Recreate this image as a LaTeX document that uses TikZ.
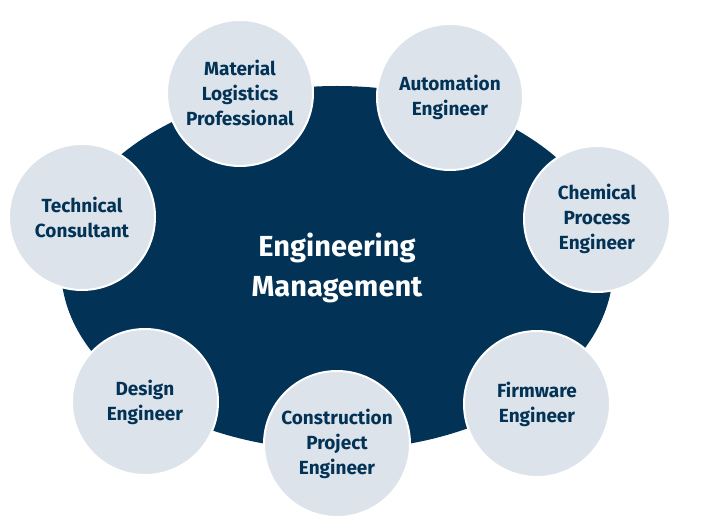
\documentclass[tikz,border=0pt]{standalone}
\usetikzlibrary{shapes.geometric}
\usepackage{fontspec}
\setmainfont{Fira Sans}
\definecolor{navy}{HTML}{023357}
\definecolor{pale}{HTML}{DCE3EA}
\begin{document}
\begin{tikzpicture}[x=1pt,y=-1pt,
  role/.style={circle,fill=pale,draw=white,line width=2pt,minimum size=146pt,inner sep=0pt,
    text=navy,align=center,font=\fontsize{19}{25}\selectfont\bfseries}]
\useasboundingbox (0,0) rectangle (709,521);
\node[ellipse,fill=navy,minimum width=552pt,minimum height=364pt,inner sep=0pt,
  text=white,align=center,font=\fontsize{29}{40}\selectfont\bfseries] (em) at (337,268)
  {Engineering\\Management};
\node[role] (ml) at (240,93) {Material\\Logistics\\Professional};
\node[role] (ae) at (450,97) {Automation\\Engineer};
\node[role] (cp) at (597,219) {Chemical\\Process\\Engineer};
\node[role] (tc) at (82,217) {Technical\\Consultant};
\node[role] (de) at (145,402) {Design\\Engineer};
\node[role] (ce) at (337,444) {Construction\\Project\\Engineer};
\node[role] (fe) at (537,404) {Firmware\\Engineer};
\end{tikzpicture}
\end{document}
